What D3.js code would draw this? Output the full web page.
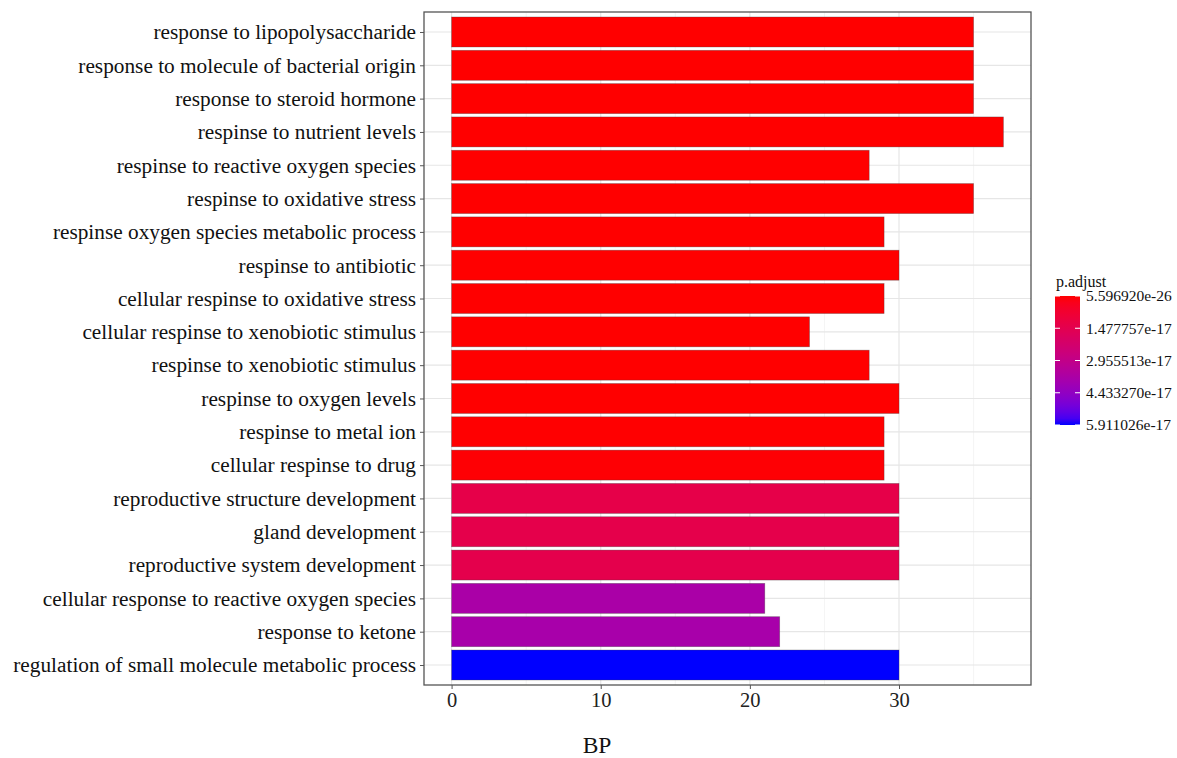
<!DOCTYPE html>
<html>
<head>
<meta charset="utf-8">
<script src="https://cdn.jsdelivr.net/npm/d3@7"></script>
<style>
  html, body { margin: 0; padding: 0; background: #fff; }
  svg { display: block; }
</style>
</head>
<body>
<svg id="chart" width="1177" height="758"></svg>
<script>
// GO biological process enrichment (BP): term, gene count, adjusted p-value
const terms = [
  "response to lipopolysaccharide",
  "response to molecule of bacterial origin",
  "response to steroid hormone",
  "respinse to nutrient levels",
  "respinse to reactive oxygen species",
  "respinse to oxidative stress",
  "respinse oxygen species metabolic process",
  "respinse to antibiotic",
  "cellular respinse to oxidative stress",
  "cellular respinse to xenobiotic stimulus",
  "respinse to xenobiotic stimulus",
  "respinse to oxygen levels",
  "respinse to metal ion",
  "cellular respinse to drug",
  "reproductive structure development",
  "gland development",
  "reproductive system development",
  "cellular response to reactive oxygen species",
  "response to ketone",
  "regulation of small molecule metabolic process"
];
const counts = [35, 35, 35, 37, 28, 35, 29, 30, 29, 24, 28, 30, 29, 29, 30, 30, 30, 21, 22, 30];
const pAdjust = [
  5.596920e-26, 2.1e-25, 8.4e-25, 3.2e-24, 1.1e-23, 4.5e-23, 1.6e-22, 5.2e-22, 1.4e-21, 4.8e-21,
  1.2e-20, 3.9e-20, 1.1e-19, 3.4e-19, 1.32e-17, 1.36e-17, 1.40e-17, 3.75e-17, 3.82e-17, 5.911026e-17
];
const xTicks = [0, 10, 20, 30];
const legendBreaks = [5.596920e-26, 1.477757e-17, 2.955513e-17, 4.433270e-17, 5.911026e-17];
const legendLabels = ["5.596920e-26", "1.477757e-17", "2.955513e-17", "4.433270e-17", "5.911026e-17"];

const svg = d3.select("#chart");
const serif = "'Liberation Serif', 'Times New Roman', serif";

const panel = { left: 424, right: 1031, top: 12, bottom: 685 };

const xMax = d3.max(counts);
const xPad = xMax * 0.05;
const x = d3.scaleLinear().domain([-xPad, xMax + xPad]).range([panel.left, panel.right]);
const y = d3.scalePoint().domain(terms).range([panel.top, panel.bottom]).padding(0.6);
const barH = y.step() * 0.9;

const pExtent = d3.extent(pAdjust);
const color = d3.scaleLinear().domain(pExtent).range(["#ff0000", "#0000ff"]).interpolate(d3.interpolateLab);

// panel background and grid
svg.append("rect")
  .attr("x", panel.left).attr("y", panel.top)
  .attr("width", panel.right - panel.left).attr("height", panel.bottom - panel.top)
  .attr("fill", "#fff");

const minorTicks = [5, 15, 25, 35];
svg.append("g").selectAll("line").data(minorTicks).join("line")
  .attr("x1", d => x(d)).attr("x2", d => x(d))
  .attr("y1", panel.top).attr("y2", panel.bottom)
  .attr("stroke", "#f2f2f2").attr("stroke-width", 0.8);
svg.append("g").selectAll("line").data(xTicks).join("line")
  .attr("x1", d => x(d)).attr("x2", d => x(d))
  .attr("y1", panel.top).attr("y2", panel.bottom)
  .attr("stroke", "#e6e6e6").attr("stroke-width", 1.2);
svg.append("g").selectAll("line").data(terms).join("line")
  .attr("x1", panel.left).attr("x2", panel.right)
  .attr("y1", d => y(d)).attr("y2", d => y(d))
  .attr("stroke", "#e6e6e6").attr("stroke-width", 1.2);

// bars
const rows = terms.map((t, i) => ({ term: t, count: counts[i], p: pAdjust[i] }));
svg.append("g").selectAll("rect").data(rows).join("rect")
  .attr("x", x(0))
  .attr("y", d => y(d.term) - barH / 2)
  .attr("width", d => x(d.count) - x(0))
  .attr("height", barH)
  .attr("fill", d => color(d.p))
  .attr("stroke", "rgba(60,60,60,0.45)")
  .attr("stroke-width", 0.7);

// panel border
svg.append("rect")
  .attr("x", panel.left).attr("y", panel.top)
  .attr("width", panel.right - panel.left).attr("height", panel.bottom - panel.top)
  .attr("fill", "none").attr("stroke", "#555").attr("stroke-width", 1.3);

// y axis
const yAxis = svg.append("g")
  .attr("transform", `translate(${panel.left},0)`)
  .call(d3.axisLeft(y).tickSize(4).tickPadding(4));
yAxis.select(".domain").remove();
yAxis.selectAll(".tick line").attr("stroke", "#555").attr("stroke-width", 1);
yAxis.selectAll(".tick text")
  .attr("font-family", serif).attr("font-size", 21.3).attr("fill", "#111");

// x axis
const xAxis = svg.append("g")
  .attr("transform", `translate(0,${panel.bottom})`)
  .call(d3.axisBottom(x).tickValues(xTicks).tickSize(4).tickPadding(3));
xAxis.select(".domain").remove();
xAxis.selectAll(".tick line").attr("stroke", "#555").attr("stroke-width", 1);
xAxis.selectAll(".tick text")
  .attr("font-family", serif).attr("font-size", 20.5).attr("fill", "#222");

// x axis title
svg.append("text")
  .attr("x", 597).attr("y", 753)
  .attr("text-anchor", "middle")
  .attr("font-family", serif).attr("font-size", 23.5).attr("fill", "#111")
  .text("BP");

// colour bar legend
const leg = { x: 1055, w: 25, top: 296, bottom: 425 };
const ly = d3.scaleLinear().domain(pExtent).range([leg.top, leg.bottom]);

const defs = svg.append("defs");
const grad = defs.append("linearGradient")
  .attr("id", "pgrad").attr("x1", 0).attr("y1", 0).attr("x2", 0).attr("y2", 1);
d3.range(0, 1.0001, 0.05).forEach(t => {
  grad.append("stop")
    .attr("offset", t)
    .attr("stop-color", color(pExtent[0] + t * (pExtent[1] - pExtent[0])));
});

svg.append("text")
  .attr("x", leg.x + 1).attr("y", 287)
  .attr("font-family", serif).attr("font-size", 16).attr("fill", "#111")
  .text("p.adjust");

svg.append("rect")
  .attr("x", leg.x).attr("y", leg.top)
  .attr("width", leg.w).attr("height", leg.bottom - leg.top)
  .attr("fill", "url(#pgrad)");

const legTicks = svg.append("g");
legendBreaks.forEach((b, i) => {
  const yy = ly(b);
  legTicks.append("line")
    .attr("x1", leg.x).attr("x2", leg.x + 5)
    .attr("y1", yy).attr("y2", yy)
    .attr("stroke", "#fff").attr("stroke-width", 1);
  legTicks.append("line")
    .attr("x1", leg.x + leg.w - 5).attr("x2", leg.x + leg.w)
    .attr("y1", yy).attr("y2", yy)
    .attr("stroke", "#fff").attr("stroke-width", 1);
  legTicks.append("text")
    .attr("x", leg.x + leg.w + 6).attr("y", yy)
    .attr("dy", "0.35em")
    .attr("font-family", serif).attr("font-size", 15.5).attr("fill", "#111")
    .text(legendLabels[i]);
});
</script>
</body>
</html>
